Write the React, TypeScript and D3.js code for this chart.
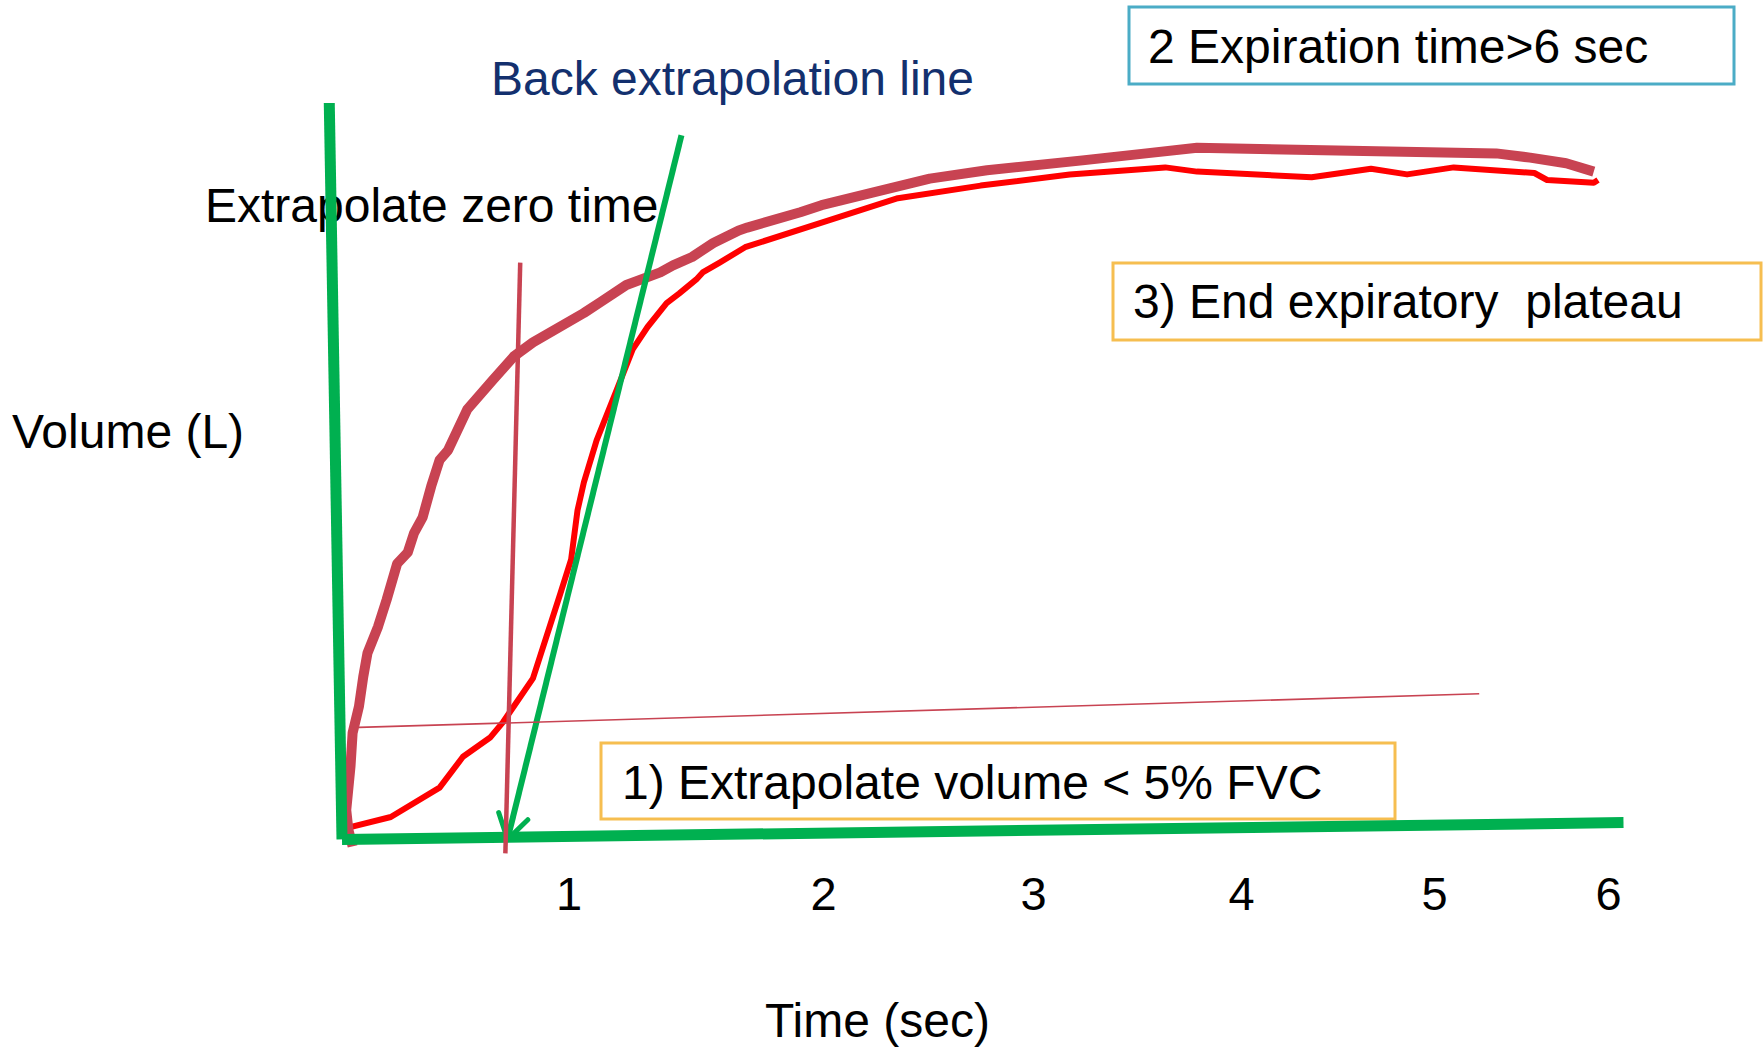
import React, { useRef, useEffect } from 'react';
import * as d3 from 'd3';

// thick curve (dark red) - time in sec, volume in L
const thickTime = [0.05, 0.03, 0.02, 0.04, 0.05, 0.08, 0.10, 0.12, 0.17, 0.21, 0.26, 0.31, 0.34, 0.38, 0.42, 0.46, 0.50, 0.59, 0.71, 0.81, 0.90, 1.14, 1.22, 1.34, 1.50, 1.56, 1.65, 1.75, 1.87, 1.91, 2.16, 2.26, 2.50, 2.77, 3.04, 3.49, 3.79, 4.03, 4.69, 5.44, 5.60, 5.77, 5.90];
const thickVol = [-0.06, 0.06, 0.20, 0.51, 0.75, 0.94, 1.15, 1.32, 1.51, 1.70, 1.96, 2.04, 2.18, 2.29, 2.51, 2.70, 2.77, 3.06, 3.27, 3.44, 3.54, 3.75, 3.83, 3.95, 4.04, 4.09, 4.15, 4.25, 4.34, 4.36, 4.47, 4.52, 4.61, 4.71, 4.77, 4.84, 4.89, 4.93, 4.91, 4.89, 4.86, 4.82, 4.76];

// thin curve (red)
const thinTime = [0.02, 0.23, 0.46, 0.57, 0.70, 0.76, 0.90, 1.03, 1.08, 1.11, 1.14, 1.20, 1.30, 1.37, 1.44, 1.53, 1.59, 1.67, 1.70, 1.78, 1.90, 2.29, 2.62, 3.01, 3.43, 3.88, 4.03, 4.57, 4.85, 5.02, 5.24, 5.62, 5.68, 5.90, 5.92];
const thinVol = [0.07, 0.15, 0.36, 0.58, 0.72, 0.83, 1.14, 1.75, 1.99, 2.34, 2.54, 2.84, 3.22, 3.49, 3.65, 3.82, 3.89, 3.99, 4.04, 4.11, 4.22, 4.41, 4.57, 4.66, 4.74, 4.79, 4.76, 4.72, 4.78, 4.74, 4.79, 4.75, 4.70, 4.68, 4.70];

const tickLabels = ['1', '2', '3', '4', '5', '6'];
const tickAt = [1.07, 2.27, 3.26, 4.24, 5.15, 5.97];

// guide segments: [t0, v0, t1, v1]
const yAxisSeg = [-0.06, 5.25, 0, -0.01];
const xAxisSeg = [0, -0.01, 6.04, 0.11];
const backLine = [1.6, 5.02, 0.78, -0.01];
const zeroTimeLine = [0.84, 4.11, 0.77, -0.11];
const fvcLine = [0.08, 0.79, 5.36, 1.03];

const FONT = "'Liberation Sans', Arial, sans-serif";
const W = 1764;
const H = 1050;

const App: React.FC = () => {
  const svgRef = useRef<SVGSVGElement | null>(null);

  useEffect(() => {
    if (!svgRef.current) return;
    const svg = d3.select(svgRef.current);
    svg.selectAll('*').remove();

    const x = d3.scaleLinear().domain([0, 6]).range([342, 1615]);
    const y = d3.scaleLinear().domain([0, 5]).range([838, 138]);

    svg.append('defs')
       .append('marker')
       .attr('id', 'vhead')
       .attr('viewBox', '-30 -20 32 40')
       .attr('markerWidth', 32)
       .attr('markerHeight', 40)
       .attr('markerUnits', 'userSpaceOnUse')
       .attr('refX', 0)
       .attr('refY', 0)
       .attr('orient', 'auto')
       .append('path')
       .attr('d', 'M-24,-15 L0,0 L-24,15')
       .attr('fill', 'none')
       .attr('stroke', '#00B050')
       .attr('stroke-width', 5)
       .attr('stroke-linecap', 'round');

    // labels
    const txt = (tx: number, ty: number, s: string, size: number, color = '#000', anchor = 'start') =>
      svg.append('text')
         .attr('x', tx)
         .attr('y', ty)
         .attr('font-family', FONT)
         .attr('font-size', size)
         .attr('fill', color)
         .attr('text-anchor', anchor)
         .style('white-space', 'pre')
         .text(s);

    txt(491, 95, 'Back extrapolation line', 48, '#13306E');
    txt(205, 222, 'Extrapolate zero time', 48);
    txt(12, 448, 'Volume (L)', 48);
    txt(765, 1037, 'Time (sec)', 48);

    // boxes
    const box = (bx: number, by: number, bw: number, bh: number, color: string, s: string, tx: number, ty: number) => {
      svg.append('rect')
         .attr('x', bx).attr('y', by).attr('width', bw).attr('height', bh)
         .attr('fill', 'none').attr('stroke', color).attr('stroke-width', 3);
      txt(tx, ty, s, 48);
    };
    box(1129, 7, 605, 77, '#4BACC6', '2 Expiration time>6 sec', 1148, 63);
    box(1113, 263, 648, 77, '#F6BE50', '3) End expiratory  plateau', 1133, 318);
    box(601, 743, 794, 76, '#F6BE50', '1) Extrapolate volume < 5% FVC', 622, 799);

    // tick labels
    tickLabels.forEach((l, i) => txt(x(tickAt[i]), 910, l, 47, '#000', 'middle'));

    const line = d3.line<[number, number]>()
                   .x(d => x(d[0]))
                   .y(d => y(d[1]));

    svg.append('path')
       .datum(thinTime.map((t, i) => [t, thinVol[i]] as [number, number]))
       .attr('d', line)
       .attr('fill', 'none')
       .attr('stroke', '#FF0000')
       .attr('stroke-width', 6)
       .attr('stroke-linejoin', 'round');

    svg.append('path')
       .datum(thickTime.map((t, i) => [t, thickVol[i]] as [number, number]))
       .attr('d', line)
       .attr('fill', 'none')
       .attr('stroke', '#C84352')
       .attr('stroke-width', 10)
       .attr('stroke-linejoin', 'round');

    const seg = (s: number[], color: string, w: number) =>
      svg.append('line')
         .attr('x1', x(s[0])).attr('y1', y(s[1]))
         .attr('x2', x(s[2])).attr('y2', y(s[3]))
         .attr('stroke', color)
         .attr('stroke-width', w);

    seg(yAxisSeg, '#00B050', 11);
    seg(xAxisSeg, '#00B050', 11);
    seg(backLine, '#00B050', 6).attr('marker-end', 'url(#vhead)');
    seg(fvcLine, '#C84352', 1.6);
    seg(zeroTimeLine, '#C84352', 4.5);
  }, []);

  return (
    <svg
      ref={svgRef}
      width={W}
      height={H}
      style={{ position: 'absolute', left: 0, top: 0, background: '#fff' }}
    />
  );
};

export default App;
